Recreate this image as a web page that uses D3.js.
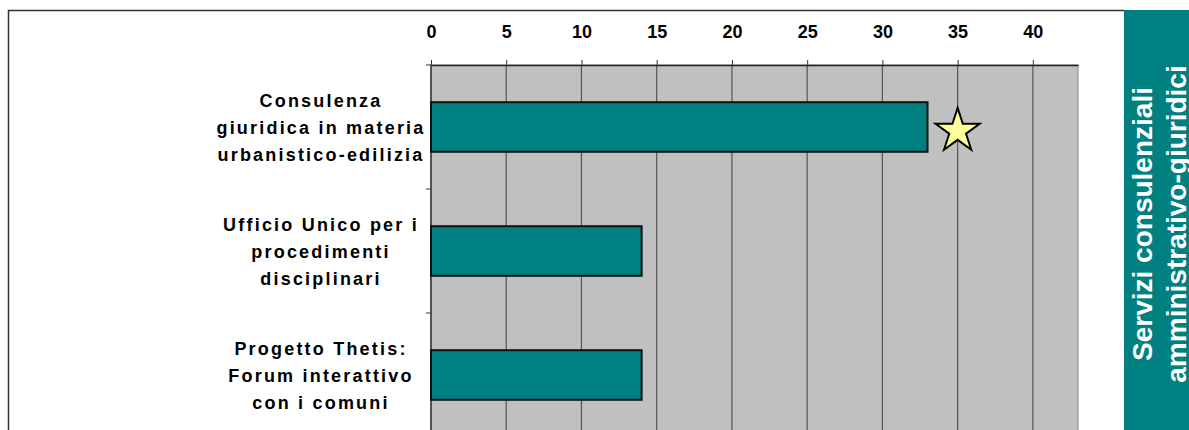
<!DOCTYPE html>
<html>
<head>
<meta charset="utf-8">
<script src="https://cdn.jsdelivr.net/npm/d3@7"></script>
<style>
  body { margin: 0; background: #fff; }
  svg { display: block; font-family: "Liberation Sans", Arial, sans-serif; }
</style>
</head>
<body>
<div id="wrapper"></div>
<script>
// data
const categories = [
    ['Consulenza', 'giuridica in materia', 'urbanistico-edilizia'],
    ['Ufficio Unico per i', 'procedimenti', 'disciplinari'],
    ['Progetto Thetis:', 'Forum interattivo', 'con i comuni']
];
const values = [33, 14, 14];
const starValues = [35, null, null];
const xTicks = [0, 5, 10, 15, 20, 25, 30, 35, 40];
const sideTitle = ['Servizi consulenziali', 'amministrativo-giuridici'];

const dimensions = {
    width: 1189,
    height: 430,
    margin: { top: 65, left: 431, right: 111 }
};
const boundedWidth = dimensions.width - dimensions.margin.left - dimensions.margin.right;
const bandStep = 124;

const svg = d3.select('#wrapper').append('svg')
    .attr('width', dimensions.width)
    .attr('height', dimensions.height);

// outer frame
svg.append('path')
    .attr('d', 'M8.5,440 V10.5 H1124')
    .attr('fill', 'none')
    .attr('stroke', '#333')
    .attr('stroke-width', 1.5);

// side panel
svg.append('rect')
    .attr('x', 1124).attr('y', 10)
    .attr('width', 70).attr('height', 430)
    .attr('fill', '#008080');

svg.append('g')
    .attr('transform', 'translate(1152, 224) rotate(-90)')
    .selectAll('text').data(sideTitle).enter().append('text')
    .attr('x', 0)
    .attr('y', (d, i) => i * 34)
    .attr('text-anchor', 'middle')
    .attr('fill', '#fff')
    .attr('font-weight', 'bold')
    .attr('font-size', 28)
    .text(d => d);

const bounds = svg.append('g')
    .attr('transform', `translate(${dimensions.margin.left}, ${dimensions.margin.top})`);

const xScale = d3.scaleLinear()
    .domain([0, 43])
    .range([0, boundedWidth]);

const yScale = d3.scaleBand()
    .domain(d3.range(categories.length))
    .range([0, bandStep * categories.length])
    .paddingInner(0.6)
    .paddingOuter(0.3);

// plot background
bounds.append('rect')
    .attr('width', boundedWidth)
    .attr('height', 400)
    .attr('fill', '#c0c0c0')
    .attr('stroke', '#888');

// grid
bounds.append('g').selectAll('line').data(xTicks.slice(1)).enter().append('line')
    .attr('x1', d => xScale(d)).attr('x2', d => xScale(d))
    .attr('y1', 0).attr('y2', 400)
    .attr('stroke', '#555')
    .attr('stroke-width', 1.2);

// top axis
const xAxis = bounds.append('g')
    .call(d3.axisTop(xScale).tickValues(xTicks).tickSize(5).tickSizeOuter(0).tickPadding(22));
xAxis.select('.domain').attr('stroke', '#222').attr('stroke-width', 1.5);
xAxis.selectAll('.tick line').attr('stroke', '#333');
xAxis.selectAll('text')
    .attr('font-size', 18)
    .attr('font-weight', 'bold')
    .attr('fill', '#000');

// left axis ticks at band boundaries
bounds.append('g').selectAll('line').data(d3.range(categories.length + 1)).enter().append('line')
    .attr('x1', -5).attr('x2', 0)
    .attr('y1', d => d * bandStep).attr('y2', d => d * bandStep)
    .attr('stroke', '#333');
bounds.append('line')
    .attr('x1', 0).attr('x2', 0).attr('y1', 0).attr('y2', 400)
    .attr('stroke', '#333').attr('stroke-width', 1.5);

// bars
bounds.append('g').selectAll('rect').data(values).enter().append('rect')
    .attr('x', 0)
    .attr('y', (d, i) => yScale(i))
    .attr('width', d => xScale(d))
    .attr('height', yScale.bandwidth())
    .attr('fill', '#008080')
    .attr('stroke', '#111')
    .attr('stroke-width', 2);

// star markers
const star = d3.symbol().type(d3.symbolStar).size(600);
bounds.append('g').selectAll('path')
    .data(starValues.map((v, i) => ({ v, i })).filter(d => d.v !== null))
    .enter().append('path')
    .attr('d', star)
    .attr('transform', d => `translate(${xScale(d.v)}, ${yScale(d.i) + yScale.bandwidth() / 2 + 4})`)
    .attr('fill', '#ffff99')
    .attr('stroke', '#000')
    .attr('stroke-width', 2);

// category labels
const labels = bounds.append('g').selectAll('text').data(categories).enter().append('text')
    .attr('text-anchor', 'middle')
    .attr('font-size', 18)
    .attr('font-weight', 'bold')
    .attr('letter-spacing', 2.2)
    .attr('fill', '#000');
labels.selectAll('tspan').data((d, i) => d.map(line => ({ line, i }))).enter().append('tspan')
    .attr('x', -110)
    .attr('y', (d, j) => yScale(d.i) + yScale.bandwidth() / 2 + (j - 1) * 27 + 7)
    .text(d => d.line);
</script>
</body>
</html>
